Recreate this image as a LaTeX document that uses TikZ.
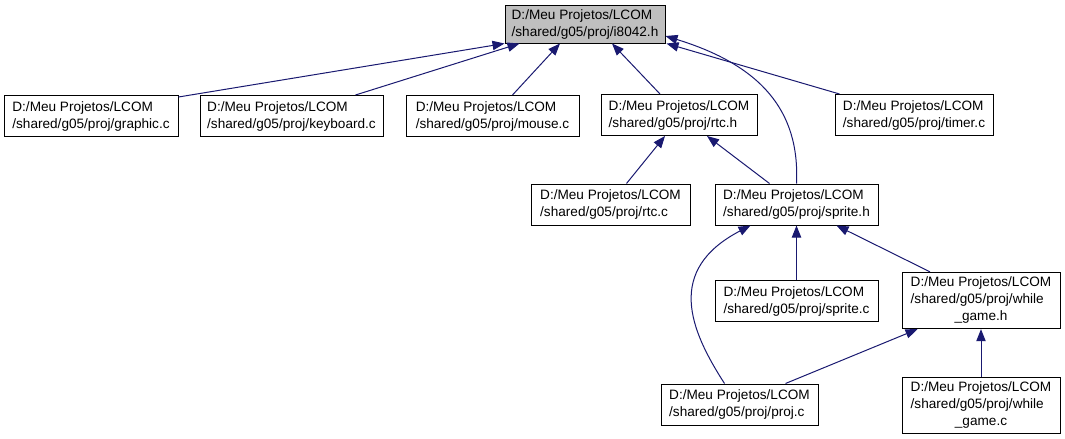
\documentclass[tikz,border=0pt]{standalone}
\usepackage{fontspec}
\setmainfont{Liberation Sans}
\usetikzlibrary{arrows.meta,calc}
\definecolor{edgeblue}{HTML}{191970}
\tikzset{box/.style={draw=black,line width=0.75pt,fill=white,align=left,inner sep=2pt,
    font=\fontsize{10.2}{12.75}\selectfont,minimum height=41*0.75pt},
  root/.style={box,fill=black!25},
  arr/.style={{Triangle[length=9pt,width=7pt]}-,draw=edgeblue,line width=0.75pt}}
\newcommand{\fpath}[1]{D:/Meu Projetos/LCOM\\/shared/g05/proj/#1}
\newcommand{\fpathwrap}[1]{\begin{tabular}{@{}l@{}}D:/Meu Projetos/LCOM\\/shared/g05/proj/while\\\multicolumn{1}{@{}c@{}}{\_game.#1}\end{tabular}}
\begin{document}
\begin{tikzpicture}[x=0.75pt,y=-0.75pt]
\useasboundingbox (0,0) rectangle (1065,439);
% files
\node[root,minimum width=160*0.75pt,minimum height=38*0.75pt] (i8042) at (585,24) {\fpath{i8042.h}};
\node[box,minimum width=174*0.75pt] (graphic) at (91,116) {\fpath{graphic.c}};
\node[box,minimum width=183*0.75pt] (keyboard) at (291.5,116) {\fpath{keyboard.c}};
\node[box,minimum width=173*0.75pt] (mouse) at (492.5,116) {\fpath{mouse.c}};
\node[box,minimum width=156*0.75pt] (rtch) at (679,115) {\fpath{rtc.h}};
\node[box,minimum width=158*0.75pt] (timer) at (914,115) {\fpath{timer.c}};
\node[box,minimum width=159*0.75pt] (rtcc) at (610.5,204.5) {\fpath{rtc.c}};
\node[box,minimum width=163*0.75pt] (spriteh) at (796.5,204.5) {\fpath{sprite.h}};
\node[box,minimum width=163*0.75pt] (spritec) at (796.5,301) {\fpath{sprite.c}};
\node[box,minimum width=158*0.75pt,minimum height=55*0.75pt] (gameh) at (981,300.5) {\fpathwrap{h}};
\node[box,minimum width=157*0.75pt] (proj) at (739.5,404.5) {\fpath{proj.c}};
\node[box,minimum width=158*0.75pt,minimum height=55*0.75pt] (gamec) at (981,405.5) {\fpathwrap{c}};
% includes
\draw[arr] (i8042.south west) -- ($(graphic.north east)+(0,2)$);
\draw[arr] ($(i8042.south west)+(15,0)$) -- ($(keyboard.north east)+(-28,0)$);
\draw[arr] ($(i8042.south)+(-25,0)$) -- ($(mouse.north)+(20,0)$);
\draw[arr] ($(i8042.south)+(27,0)$) -- ($(rtch.north)+(-19,0)$);
\draw[arr] ($(i8042.south east)+(1,0)$) -- ($(timer.north west)+(5,0)$);
\draw[arr] ($(i8042.east)+(0,12)$) .. controls (760,65) and (800,110) .. (spriteh.north);
\draw[arr] ($(rtch.south)+(-14,0)$) -- ($(rtcc.north)+(16,0)$);
\draw[arr] ($(rtch.south)+(28,0)$) -- ($(spriteh.north)+(-27,0)$);
\draw[arr] (spriteh.south) -- (spritec.north);
\draw[arr] ($(spriteh.south east)+(-42,0)$) -- ($(gameh.north)+(-51,0)$);
\draw[arr] ($(spriteh.south)+(-46,0)$) .. controls (665,270) and (690,330) .. ($(proj.north)+(-15,0)$);
\draw[arr] ($(gameh.south west)+(16,0)$) -- ($(proj.north)+(46,0)$);
\draw[arr] (gameh.south) -- (gamec.north);
\end{tikzpicture}
\end{document}
